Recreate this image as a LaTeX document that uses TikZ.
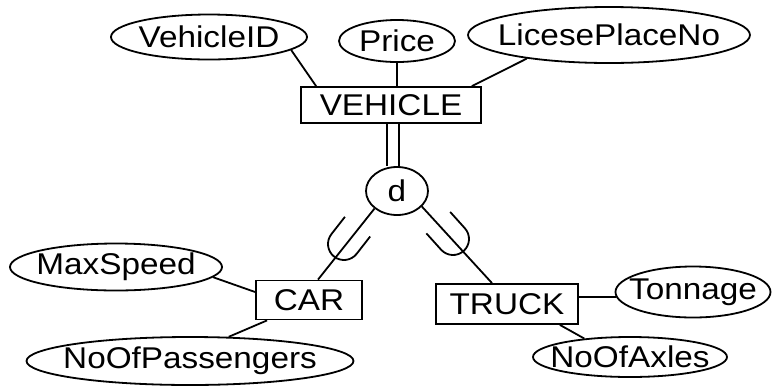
\documentclass[tikz,border=0pt]{standalone}
\usepackage{fontspec}
\setmainfont{Liberation Sans}[FakeStretch=1.11]
\usetikzlibrary{shapes}

\begin{document}
\begin{tikzpicture}[
  x=0.5pt, y=-0.5pt,
  line width=0.9pt,
  every node/.style={font=\fontsize{15}{18}\selectfont},
  entity/.style={draw, rectangle, inner sep=0pt},
  attrib/.style={draw, ellipse, inner xsep=-15pt, inner ysep=0pt},
  disjoint/.style={draw, ellipse, inner sep=0pt, minimum width=31pt, minimum height=24pt},
  subsetmark/.pic={
    \draw (-8pt,11pt) -- (-8pt,0pt) arc[start angle=180, end angle=360, radius=8pt] -- (8pt,11pt);
  }
]
\useasboundingbox (0,0) rectangle (773,387);

% Superclass and its attributes
\node[entity, minimum width=90pt, minimum height=18pt] (vehicle) at (391,105) {VEHICLE};
\node[attrib, minimum width=98pt, minimum height=22.5pt] (vid) at (209,37) {VehicleID};
\node[attrib, minimum width=58pt, minimum height=21pt] (price) at (397,41) {Price};
\node[attrib, minimum width=141pt, minimum height=28pt] (lic) at (609,35) {LicesePlaceNo};

\draw (vid.-9) -- ([xshift=8pt]vehicle.north west);
\draw (price.south) -- (price.south |- vehicle.north);
\draw (lic.196) -- ([xshift=-5pt]vehicle.north east);

% Disjointness circle
\node[disjoint] (dis) at (397,191) {d};
\draw[double, double distance=5pt] ([xshift=-2pt]dis.north |- vehicle.south) -- ([xshift=-2pt]dis.north);

% Subclasses
\node[entity, minimum width=53pt, minimum height=19.5pt] (car) at (309,300) {CAR};
\node[entity, minimum width=71pt, minimum height=20pt] (truck) at (507,304) {TRUCK};

\draw (dis.218) -- ([xshift=4.5pt]car.north);
\draw (dis.-32) -- ([xshift=-7.5pt]truck.north);
\pic[rotate=-38] at (344,244) {subsetmark};
\pic[rotate=42] at (453,239) {subsetmark};

% Attributes of CAR
\node[attrib, minimum width=106pt, minimum height=23.5pt] (maxspeed) at (116,267) {MaxSpeed};
\node[attrib, minimum width=163.5pt, minimum height=24pt] (nopass) at (190,361) {NoOfPassengers};
\draw (maxspeed.-6) -- ([yshift=4pt]car.west);
\draw (nopass.32) -- ([xshift=6pt]car.south west);

% Attributes of TRUCK
\node[attrib, minimum width=77.5pt, minimum height=25.5pt] (tonnage) at (693,292) {Tonnage};
\node[attrib, minimum width=97pt, minimum height=20pt] (axles) at (630,357) {NoOfAxles};
\draw (tonnage.184) -- (tonnage.184 -| truck.east);
\draw (axles.158) -- ([xshift=-9.5pt]truck.south east);
\end{tikzpicture}
\end{document}
